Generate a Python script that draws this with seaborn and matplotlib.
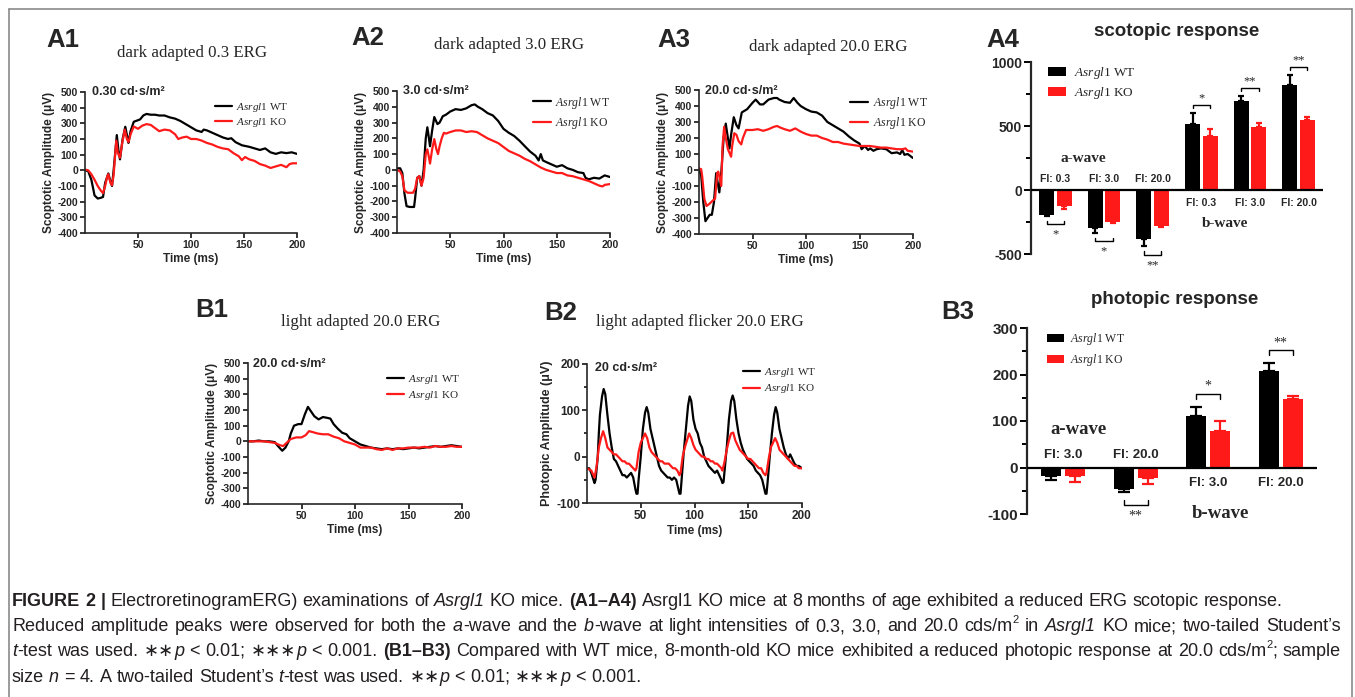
import re
import numpy as np
import pandas as pd
import matplotlib
matplotlib.use("Agg")
import matplotlib.pyplot as plt
import seaborn as sns
from matplotlib.lines import Line2D
from matplotlib.ticker import MultipleLocator

# ------------------------------------------------------------------ data
GROUPS = ["WT", "KO"]
LEGEND_LABELS = [r"$\mathit{Asrgl1}$ WT", r"$\mathit{Asrgl1}$ KO"]

# A1 dark adapted 0.3
A1_WT_T = [0, 3, 6, 9, 12, 15, 17, 19, 22, 24, 25.5, 27, 30, 31.5, 33, 35.5, 38, 40, 41, 43,
           46, 48, 52, 55, 58, 62, 66, 70, 75, 80, 85, 90, 95, 100, 105, 110, 112, 115, 120, 125,
           130, 135, 138, 142, 148, 155, 160, 165, 170, 175, 180, 185, 190, 195, 200]
A1_WT_V = [0, -5, -60, -160, -180, -175, -170, -80, -20, -70, -100, 0, 225, 130, 70, 200, 278, 210, 175, 250,
           310, 315, 325, 350, 360, 355, 355, 350, 350, 338, 330, 315, 295, 275, 255, 245, 260, 255, 240, 225,
           210, 200, 205, 180, 160, 150, 140, 130, 140, 115, 105, 115, 110, 115, 105]
A1_KO_T = [0, 3, 6, 9, 12, 15, 17, 19, 21, 22, 24, 25.5, 27, 29.5, 31, 33, 35, 37.5, 39.5, 41,
           43, 46, 50, 54, 58, 62, 66, 70, 75, 80, 85, 88, 92, 96, 100, 105, 110, 115, 120, 125,
           130, 135, 140, 145, 148, 151, 155, 160, 165, 170, 175, 180, 185, 190, 193, 196, 200]
A1_KO_V = [5, 0, -25, -60, -100, -130, -145, -100, -40, -25, -80, -95, -30, 190, 110, 80, 170, 260, 200, 180,
           230, 280, 265, 285, 295, 290, 270, 250, 260, 255, 230, 200, 210, 215, 200, 200, 190, 175, 165, 150,
           140, 135, 110, 90, 65, 85, 70, 60, 40, 30, 15, 25, 35, 20, 40, 45, 45]

# A2 dark adapted 3.0
A2_WT_T = [0, 3, 5, 7, 9, 12, 16, 17, 19, 21, 23, 25, 27, 28.5, 30, 31, 33, 35, 38, 40,
           43, 46, 50, 55, 60, 65, 70, 73, 76, 80, 85, 90, 95, 100, 105, 110, 115, 120, 125, 130,
           133, 135, 137, 140, 145, 150, 155, 160, 165, 170, 175, 177, 180, 185, 190, 195, 200]
A2_WT_V = [10, 10, -20, -150, -230, -235, -235, -180, -50, -40, -100, 0, 200, 270, 200, 150, 250, 335, 290, 300,
           340, 350, 370, 385, 380, 390, 410, 415, 400, 385, 360, 345, 310, 260, 235, 215, 185, 150, 116, 90,
           60, 100, 60, 50, 35, 20, 30, 10, 0, -15, -20, -50, -60, -50, -55, -35, -45]
A2_KO_T = [0, 3, 5, 7, 10, 15, 17, 19, 21, 23, 25, 27, 28.5, 30, 31, 33, 35, 37, 38.5, 40,
           42, 44, 46, 50, 55, 60, 65, 70, 75, 80, 85, 90, 95, 100, 105, 110, 115, 120, 125, 130,
           135, 140, 145, 150, 155, 160, 165, 170, 175, 180, 185, 190, 193, 195, 200]
A2_KO_V = [0, -10, -40, -130, -145, -145, -120, -50, -40, -100, -50, 100, 130, 80, 40, 130, 195, 130, 100, 150,
           200, 235, 230, 240, 250, 250, 240, 245, 240, 220, 200, 185, 170, 145, 120, 105, 90, 70, 55, 35,
           15, 0, -10, -20, -20, -35, -40, -50, -60, -70, -85, -100, -105, -95, -90]

# A3 dark adapted 20.0
A3_WT_T = [0, 2, 4, 6, 8, 10, 12, 14, 16, 17, 19, 21, 23, 25, 27, 28.5, 30, 32.5, 35, 37,
           40, 45, 50, 53, 57, 60, 65, 70, 73, 75, 80, 85, 88.5, 92, 95, 100, 105, 110, 115, 120,
           125, 130, 135, 140, 145, 150, 152, 155, 158, 160, 163, 166, 170, 175, 180, 185, 188, 190, 192, 195,
           197, 200]
A3_WT_V = [0, -30, -200, -320, -300, -280, -280, -200, -20, -60, -140, 0, 200, 290, 200, 135, 220, 330, 280, 260,
           360, 380, 420, 440, 410, 410, 440, 450, 450, 440, 425, 420, 450, 420, 400, 380, 365, 360, 340, 300,
           280, 260, 240, 210, 185, 165, 130, 150, 125, 135, 120, 130, 135, 130, 105, 110, 100, 125, 95, 100,
           90, 75]
A3_KO_T = [0, 2, 3, 5, 7, 10, 13, 15, 17, 18, 20.8, 22, 23.5, 25, 27, 30, 31, 33, 35, 37,
           39.5, 41, 44, 50, 55, 60, 65, 70, 73, 76, 80, 85, 90, 95, 100, 105, 110, 115, 120,
           125, 130, 135, 140, 145, 150, 155, 160, 165, 170, 175, 180, 185, 190, 193, 195, 200]
A3_KO_V = [10, 5, -40, -180, -225, -210, -190, -180, -20, -10, -100, 150, 270, 200, 130, 83, 150, 230, 220, 180,
           160, 200, 250, 250, 255, 245, 255, 270, 275, 265, 255, 245, 260, 240, 225, 215, 215, 200, 190,
           175, 175, 165, 160, 155, 150, 150, 150, 145, 140, 140, 135, 130, 130, 135, 120, 115]

# B1 light adapted 20.0
B1_WT_T = [0, 5, 10, 15, 20, 25, 28, 32, 35, 38, 40, 43, 47, 50, 53, 56, 59, 62, 66, 70,
           74, 77, 80, 84, 88, 92, 95, 100, 105, 110, 115, 120, 125, 130, 135, 140, 145, 150, 155, 160,
           165, 170, 175, 180, 185, 190, 195, 200]
B1_WT_V = [0, 0, 5, 0, 0, -5, -30, -60, -40, 0, 50, 100, 110, 110, 170, 220, 190, 160, 140, 155,
           150, 145, 110, 80, 55, 45, 20, 0, -20, -30, -40, -45, -50, -45, -50, -45, -50, -45, -40, -45,
           -40, -35, -30, -35, -30, -25, -30, -35]
B1_KO_T = [0, 5, 10, 15, 20, 25, 30, 33, 36, 40, 45, 50, 54, 57, 60, 65, 70, 75, 80, 85,
           90, 95, 100, 105, 110, 115, 120, 125, 130, 135, 140, 145, 150, 155, 160, 165, 170, 175, 180, 185,
           190, 195, 200]
B1_KO_V = [0, 0, 0, 0, -5, -10, -25, -30, -10, 15, 25, 25, 40, 65, 60, 50, 45, 45, 30, 20,
           0, -10, -20, -40, -40, -40, -50, -55, -45, -55, -45, -45, -40, -40, -40, -35, -40, -30, -35, -35,
           -30, -35, -35]

# B2 light adapted flicker 20.0
B2_WT_T = [0, 2, 4, 6, 7, 8, 10, 11, 12, 14, 15.5, 17, 19, 21, 23, 25, 27, 29, 31, 33,
           35, 37, 39, 41, 43, 45, 46, 47, 48, 50, 52, 54, 55.5, 57, 59, 61, 63, 65, 67, 69,
           71, 73, 75, 77, 79, 81, 83, 85, 86, 87, 88, 90, 92, 94, 95.5, 97, 99, 101, 103, 105,
           107, 109, 111, 113, 115, 117, 119, 121, 123, 125, 126, 127, 128, 130, 132, 134, 135.5, 137, 139, 141,
           143, 145, 147, 149, 151, 153, 155, 157, 159, 161, 163, 165, 166, 167, 168, 170, 172, 174, 175.5, 177,
           179, 181, 183, 185, 187, 189, 191, 193, 195, 197, 200]
B2_WT_V = [-25, -25, -35, -50, -57, -50, 0, 50, 90, 130, 146, 135, 90, 50, 20, -5, -10, -20, -30, -40,
           -40, -45, -40, -35, -45, -70, -80, -80, -50, 0, 60, 95, 107, 95, 60, 40, 20, 0, -20, -30,
           -35, -40, -45, -45, -50, -45, -50, -70, -80, -80, -50, 10, 60, 110, 130, 120, 80, 60, 50, 30,
           20, 0, -10, -20, -25, -30, -35, -30, -40, -50, -57, -55, -30, 20, 80, 120, 132, 120, 80, 50,
           30, 15, 5, -5, -10, -15, -20, -30, -35, -40, -50, -70, -80, -80, -55, 0, 50, 90, 107, 95,
           60, 40, 20, 5, -5, 5, -5, -15, -20, -20, -25]
B2_KO_T = [0, 4, 6, 7, 9, 11, 13, 15, 17, 19, 21, 23, 25, 27, 29, 31, 33, 35, 37, 39,
           41, 43, 45, 46, 48, 50, 52, 54, 56, 58, 60, 62, 64, 66, 68, 70, 72, 74, 76, 78,
           80, 82, 84, 86, 87, 89, 91, 93, 95, 97, 99, 101, 103, 105, 107, 109, 111, 113, 115, 117,
           119, 121, 123, 125, 126, 128, 130, 132, 134, 136, 138, 140, 142, 144, 146, 148, 150, 152, 154, 156,
           158, 160, 162, 164, 166, 167, 169, 171, 173, 175, 177, 179, 181, 183, 185, 187, 189, 191, 193, 195,
           197, 200]
B2_KO_V = [-25, -30, -40, -45, -20, 20, 40, 55, 40, 20, 15, 10, 5, 5, 0, -5, -10, -10, -15, -15,
           -20, -25, -30, -25, 10, 30, 40, 50, 40, 20, 10, 5, 0, -5, -10, -10, -15, -15, -15, -20,
           -25, -25, -30, -40, -35, 0, 20, 35, 50, 40, 25, 15, 10, 5, 0, 0, -5, -5, -10, -10,
           -15, -15, -20, -25, -30, -10, 15, 35, 50, 52, 35, 25, 15, 10, 5, 0, -5, -5, -10, -15,
           -20, -25, -25, -35, -40, -35, -5, 20, 30, 40, 30, 15, 10, 5, 0, -5, -10, -15, -20, -20,
           -25, -25]

# A4 scotopic response (mean, error)
SCOT_CATS = ["a 0.3", "a 3.0", "a 20.0", "b 0.3", "b 3.0", "b 20.0"]
SCOT_LABELS = ["FI: 0.3", "FI: 3.0", "FI: 20.0", "FI: 0.3", "FI: 3.0", "FI: 20.0"]
SCOT_WT = [-195, -297, -383, 516, 695, 820]
SCOT_WT_ERR = [8, 39, 57, 84, 39, 78]
SCOT_KO = [-125, -248, -281, 422, 492, 547]
SCOT_KO_ERR = [25, 7, 9, 55, 31, 23]
SCOT_SIG = ["*", "*", "**", "*", "**", "**"]

# B3 photopic response (mean, error)
PHOT_CATS = ["a 3.0", "a 20.0", "b 3.0", "b 20.0"]
PHOT_LABELS = ["FI: 3.0", "FI: 20.0", "FI: 3.0", "FI: 20.0"]
PHOT_WT = [-19, -47, 111, 208]
PHOT_WT_ERR = [7, 6, 20, 17]
PHOT_KO = [-19, -22, 79, 148]
PHOT_KO_ERR = [13, 14, 22, 6]
PHOT_SIG = ["", "**", "*", "**"]

# ------------------------------------------------------------------ style
W, H = 1355, 697
sns.set_style("ticks")
plt.rcParams["font.family"] = ["Liberation Sans", "DejaVu Sans"]
plt.rcParams["mathtext.fontset"] = "custom"
plt.rcParams["mathtext.rm"] = "Liberation Serif"
plt.rcParams["mathtext.it"] = "Liberation Serif:italic"
plt.rcParams["mathtext.bf"] = "Liberation Serif:bold"
plt.rcParams["axes.unicode_minus"] = False

BLACK = "#000000"
RED = "#ff1a1a"
PALETTE = {"WT": BLACK, "KO": RED}
SANS = ["Liberation Sans", "DejaVu Sans"]
SERIF = ["Liberation Serif", "DejaVu Serif"]

fig = plt.figure(figsize=(W / 100, H / 100), dpi=100)
fig.patch.set_facecolor("white")


def rect(x0, y0, x1, y1):
    return [x0 / W, 1 - y1 / H, (x1 - x0) / W, (y1 - y0) / H]


def ftext(x, y, s, **kw):
    return fig.text(x / W, 1 - y / H, s, **kw)


def style_ticks(ax, size, lw):
    plt.setp(ax.get_xticklabels() + ax.get_yticklabels(), fontweight="bold", fontsize=size)
    ax.tick_params(which="major", length=3.5, width=lw, pad=1.5, color="black")
    ax.tick_params(which="minor", length=2.5, width=lw, color="black")


def trace_panel(box, wt_t, wt_v, ko_t, ko_v, st):
    ax = fig.add_axes(rect(*box))
    df = pd.concat([
        pd.DataFrame({"t": wt_t, "v": wt_v, "g": "WT"}),
        pd.DataFrame({"t": ko_t, "v": ko_v, "g": "KO"}),
    ], ignore_index=True)
    sns.lineplot(data=df, x="t", y="v", hue="g", hue_order=GROUPS, palette=PALETTE,
                 estimator=None, errorbar=None, linewidth=1.6, legend=False, ax=ax)
    ax.set_xlim(0, 200)
    ax.set_xticks([50, 100, 150, 200])
    ax.set_ylim(*st["ylim"])
    ax.yaxis.set_major_locator(MultipleLocator(st["major"]))
    if st.get("minor"):
        ax.yaxis.set_minor_locator(MultipleLocator(st["minor"]))
    for s in ["top", "right"]:
        ax.spines[s].set_visible(False)
    for s in ["left", "bottom"]:
        ax.spines[s].set_linewidth(1.2)
    style_ticks(ax, st.get("tick_fs", 7.5), 1.1)
    ax.set_xlabel("Time (ms)", fontsize=8.5, fontweight="bold", labelpad=2.5)
    ax.set_ylabel(st["ylabel"], fontsize=st.get("ylab_fs", 8.5), fontweight="bold", labelpad=2)
    ax.text(st["int_xy"][0], st["int_xy"][1], st["int"], transform=ax.transAxes,
            fontsize=9, fontweight="bold", ha="left", va="center")
    handles = ax.get_lines()[:2]
    ax.legend(handles, LEGEND_LABELS, loc="upper left", bbox_to_anchor=st["leg_xy"],
              frameon=False, prop={"family": SERIF, "size": st.get("leg_fs", 8)},
              handlelength=1.5, handletextpad=0.4, labelspacing=st.get("leg_sp", 0.25),
              borderpad=0, borderaxespad=0)
    return ax


def bar_panel(box, cats, labels, wt, wt_err, ko, ko_err, sig, st):
    ax = fig.add_axes(rect(*box))
    n = len(cats)
    df = pd.DataFrame({"cat": cats * 2, "val": wt + ko, "g": ["WT"] * n + ["KO"] * n})
    sns.barplot(data=df, x="cat", y="val", hue="g", hue_order=GROUPS, order=cats,
                palette=PALETTE, errorbar=None, width=st["width"], gap=st["gap"],
                saturation=1, linewidth=0, legend=True, ax=ax)
    bars_wt, bars_ko = ax.containers[0], ax.containers[1]
    # error bars (one-sided, away from zero)
    for bars, means, errs, col in [(bars_wt, wt, wt_err, BLACK), (bars_ko, ko, ko_err, RED)]:
        for p, m, e in zip(bars, means, errs):
            xc = p.get_x() + p.get_width() / 2
            yerr = [[0], [e]] if m >= 0 else [[e], [0]]
            ax.errorbar([xc], [m], yerr=yerr, fmt="none", ecolor=col, elinewidth=1.6,
                        capsize=st["cap"], capthick=1.6, zorder=1, clip_on=False)
    # significance brackets
    for i in range(n):
        if not sig[i]:
            continue
        pw, pk = bars_wt[i], bars_ko[i]
        xw = pw.get_x() + pw.get_width() / 2
        xk = pk.get_x() + pk.get_width() / 2
        if wt[i] >= 0:
            yb = max(wt[i] + wt_err[i], ko[i] + ko_err[i]) + st["br_off"]
            ax.plot([xw, xw, xk, xk], [yb - st["br_tick"], yb, yb, yb - st["br_tick"]],
                    color="black", lw=1.0, clip_on=False)
            ax.annotate(sig[i], ((xw + xk) / 2, yb), xytext=(0, 0.5), textcoords="offset points",
                        ha="center", va="bottom", fontsize=st["star_fs"], family=SERIF,
                        annotation_clip=False)
        else:
            yb = min(wt[i] - wt_err[i], ko[i] - ko_err[i]) - st["br_off"]
            ax.plot([xw, xw, xk, xk], [yb + st["br_tick"], yb, yb, yb + st["br_tick"]],
                    color="black", lw=1.0, clip_on=False)
            ax.annotate(sig[i], ((xw + xk) / 2, yb), xytext=(0, -st["star_fs"] * 0.35),
                        textcoords="offset points", ha="center", va="top",
                        fontsize=st["star_fs"], family=SERIF, annotation_clip=False)
    # category labels near zero line
    for i in range(n):
        above = wt[i] < 0
        ax.annotate(labels[i], (i, 0), xytext=(0, st["lab_up"] if above else -st["lab_dn"]),
                    textcoords="offset points", ha="center", va="bottom" if above else "top",
                    fontsize=st["lab_fs"], fontweight="bold", annotation_clip=False)
    ax.axhline(0, color="black", lw=1.6, zorder=5)
    ax.set_xlim(-0.5, n - 0.5)
    ax.set_ylim(*st["ylim"])
    ax.yaxis.set_major_locator(MultipleLocator(st["major"]))
    ax.yaxis.set_minor_locator(MultipleLocator(st["minor"]))
    ax.set_xticks([])
    ax.set_xlabel("")
    ax.set_ylabel("")
    for s in ["top", "right", "bottom"]:
        ax.spines[s].set_visible(False)
    ax.spines["left"].set_linewidth(1.6)
    style_ticks(ax, st["tick_fs"], 1.4)
    ax.tick_params(which="major", length=5)
    ax.tick_params(which="minor", length=3.5)
    ax.legend([bars_wt, bars_ko], LEGEND_LABELS, loc="upper left", bbox_to_anchor=st["leg_xy"],
              frameon=False, prop={"family": SERIF, "size": st["leg_fs"]},
              handlelength=1.4, handleheight=0.7, handletextpad=0.55,
              labelspacing=st["leg_sp"], borderpad=0, borderaxespad=0)
    ax.text(st["aw_xy"][0], st["aw_xy"][1], "a-wave", transform=ax.transAxes, ha="center",
            va="center", family=SERIF, fontweight="bold", fontsize=st["wave_fs"])
    ax.text(st["bw_xy"][0], st["bw_xy"][1], "b-wave", transform=ax.transAxes, ha="center",
            va="center", family=SERIF, fontweight="bold", fontsize=st["wave_fs"], clip_on=False)
    return ax


SCOP_LABEL = "Scoptotic Amplitude (\u03bcV)"

trace_panel((85, 92, 297, 233), A1_WT_T, A1_WT_V, A1_KO_T, A1_KO_V,
            dict(ylim=(-400, 500), major=100, ylabel=SCOP_LABEL, int="0.30 cd\u00b7s/m\u00b2",
                 int_xy=(0.035, 1.0), leg_xy=(0.613, 0.935), leg_fs=8, leg_sp=0.2))
trace_panel((397, 91, 610, 233), A2_WT_T, A2_WT_V, A2_KO_T, A2_KO_V,
            dict(ylim=(-400, 500), major=100, ylabel=SCOP_LABEL, int="3.0 cd\u00b7s/m\u00b2",
                 int_xy=(0.03, 1.0), leg_xy=(0.638, 0.975), leg_fs=8.5, leg_sp=0.35))
trace_panel((699, 90, 913, 234), A3_WT_T, A3_WT_V, A3_KO_T, A3_KO_V,
            dict(ylim=(-400, 500), major=100, ylabel=SCOP_LABEL, int="20.0 cd\u00b7s/m\u00b2",
                 int_xy=(0.03, 0.99), leg_xy=(0.706, 0.965), leg_fs=8.5, leg_sp=0.35))
trace_panel((248, 363, 462, 504), B1_WT_T, B1_WT_V, B1_KO_T, B1_KO_V,
            dict(ylim=(-400, 500), major=100, ylabel=SCOP_LABEL, int="20.0 cd\u00b7s/m\u00b2",
                 int_xy=(0.025, 0.993), leg_xy=(0.65, 0.93), leg_fs=8, leg_sp=0.3))
trace_panel((587, 364, 802, 503), B2_WT_T, B2_WT_V, B2_KO_T, B2_KO_V,
            dict(ylim=(-100, 200), major=100, minor=50, ylabel="Photopic Amplitude (\u03bcV)",
                 int="20 cd\u00b7s/m\u00b2", int_xy=(0.035, 0.97), leg_xy=(0.726, 0.985),
                 leg_fs=8, leg_sp=0.3, tick_fs=8.5, ylab_fs=9))

bar_panel((1031, 62, 1323, 254), SCOT_CATS, SCOT_LABELS, SCOT_WT, SCOT_WT_ERR, SCOT_KO,
          SCOT_KO_ERR, SCOT_SIG,
          dict(width=0.72, gap=0.14, cap=2.5, br_off=65, br_tick=28, star_fs=9, lab_up=4,
               lab_dn=6, lab_fs=7.5, ylim=(-500, 1000), major=500, minor=250, tick_fs=10,
               leg_xy=(0.058, 0.985), leg_fs=9.5, leg_sp=0.3, wave_fs=11,
               aw_xy=(0.178, 0.5), bw_xy=(0.664, 0.161)))
bar_panel((1027, 328, 1317, 514), PHOT_CATS, PHOT_LABELS, PHOT_WT, PHOT_WT_ERR, PHOT_KO,
          PHOT_KO_ERR, PHOT_SIG,
          dict(width=0.66, gap=0.16, cap=4, br_off=28, br_tick=11, star_fs=10, lab_up=5,
               lab_dn=7, lab_fs=9.5, ylim=(-100, 300), major=100, minor=50, tick_fs=11,
               leg_xy=(0.069, 0.985), leg_fs=8.5, leg_sp=0.45, wave_fs=13.5,
               aw_xy=(0.176, 0.452), bw_xy=(0.666, 0.005)))

# ------------------------------------------------------------------ titles and panel letters
TITLES = [(192, 53, "dark adapted 0.3 ERG"), (509, 45, "dark adapted 3.0 ERG"),
          (828, 47, "dark adapted 20.0 ERG"), (361, 322, "light adapted 20.0 ERG"),
          (700, 322, "light adapted flicker 20.0 ERG")]
for x, y, s in TITLES:
    ftext(x, y, s, ha="center", va="center", family=SERIF, fontsize=12.2)
ftext(1177, 32, "scotopic response", ha="center", va="center", fontweight="bold", fontsize=13.5)
ftext(1175, 300, "photopic response", ha="center", va="center", fontweight="bold", fontsize=13.5)
LETTERS = [(63, 40, "A1"), (368, 38, "A2"), (674, 40, "A3"), (1003, 40, "A4"),
           (212, 310, "B1"), (561, 313, "B2"), (958, 312, "B3")]
for x, y, s in LETTERS:
    ftext(x, y, s, ha="center", va="center", fontweight="bold", fontsize=18.5)

# ------------------------------------------------------------------ frame
for xs, ys in [([9, 9], [0, H - 9]), ([9, 1352], [H - 9, H - 9]), ([1352, 1352], [0, H - 9])]:
    fig.add_artist(Line2D([v / W for v in xs], [v / H for v in ys], transform=fig.transFigure,
                          color="#808080", lw=1.1))

# ------------------------------------------------------------------ caption
CAP_FAMILY = ["Liberation Sans Narrow", "Liberation Sans", "DejaVu Sans"]
CAP_LINES = [
    [("FIGURE 2 |", "b"), (" ElectroretinogramERG) examinations of ", "r"), ("Asrgl1", "i"),
     (" KO mice. ", "r"), ("(A1\u2013A4)", "b"),
     (" Asrgl1 KO mice at 8 months of age exhibited a reduced ERG scotopic response.", "r")],
    [("Reduced amplitude peaks were observed for both the ", "r"), ("a", "i"),
     ("-wave and the ", "r"), ("b", "i"),
     ("-wave at light intensities of 0.3, 3.0, and 20.0 cds/m", "r"), ("2", "s"), (" in ", "r"),
     ("Asrgl1", "i"), (" KO mice; two-tailed Student\u2019s", "r")],
    [("t", "i"), ("-test was used. \u2217\u2217", "r"), ("p", "i"), (" < 0.01; \u2217\u2217\u2217", "r"),
     ("p", "i"), (" < 0.001. ", "r"), ("(B1\u2013B3)", "b"),
     (" Compared with WT mice, 8-month-old KO mice exhibited a reduced photopic response at 20.0 cds/m", "r"),
     ("2", "s"), ("; sample", "r")],
    [("size ", "r"), ("n", "i"), (" = 4. A two-tailed Student\u2019s ", "r"), ("t", "i"),
     ("-test was used. \u2217\u2217", "r"), ("p", "i"), (" < 0.01; \u2217\u2217\u2217", "r"), ("p", "i"),
     (" < 0.001.", "r")],
]
CAP_BASE = [606, 631, 656, 682]
CAP_JUSTIFY = [False, True, True, False]
CAP_X0, CAP_X1 = 12, 1341

renderer = fig.canvas.get_renderer()


def cap_kw(style, size):
    kw = dict(fontsize=size, family=CAP_FAMILY, color="#231f20")
    if "b" in style:
        kw["fontweight"] = "bold"
    if "i" in style:
        kw["fontstyle"] = "italic"
    if "s" in style:
        kw["fontsize"] = size * 0.62
    return kw


def build_items(segs):
    items = []
    for txt, st in segs:
        for part in re.split(r"( )", txt):
            if part == "":
                continue
            items.append(("sp" if part == " " else "w", part, st))
    return items


def measure(txt, st, size):
    t = fig.text(0, 0, txt, **cap_kw(st, size))
    w = t.get_window_extent(renderer).width
    t.remove()
    return w


def natural_width(items, size):
    total = 0
    for kind, txt, st in items:
        if kind == "sp":
            total += measure("n n", st, size) - measure("nn", st, size)
        else:
            total += measure(txt, st, size)
    return total


# fit font size to justified line width
probe = build_items(CAP_LINES[1])
cap_size = 10.0 * (CAP_X1 - CAP_X0) * 0.985 / natural_width(probe, 10.0)

for segs, yb, just in zip(CAP_LINES, CAP_BASE, CAP_JUSTIFY):
    items = build_items(segs)
    nat = natural_width(items, cap_size)
    nsp = sum(1 for k, _, _ in items if k == "sp")
    extra = ((CAP_X1 - CAP_X0) - nat) / nsp if (just and nsp) else 0.0
    x = CAP_X0
    for kind, txt, st in items:
        if kind == "sp":
            x += measure("n n", st, cap_size) - measure("nn", st, cap_size) + extra
            continue
        dy = cap_size * 0.42 * 100 / 72 if "s" in st else 0
        t = fig.text(x / W, 1 - (yb - dy) / H, txt, ha="left", va="baseline", **cap_kw(st, cap_size))
        x += t.get_window_extent(renderer).width

fig.savefig("out.png", dpi=100, facecolor="white")
